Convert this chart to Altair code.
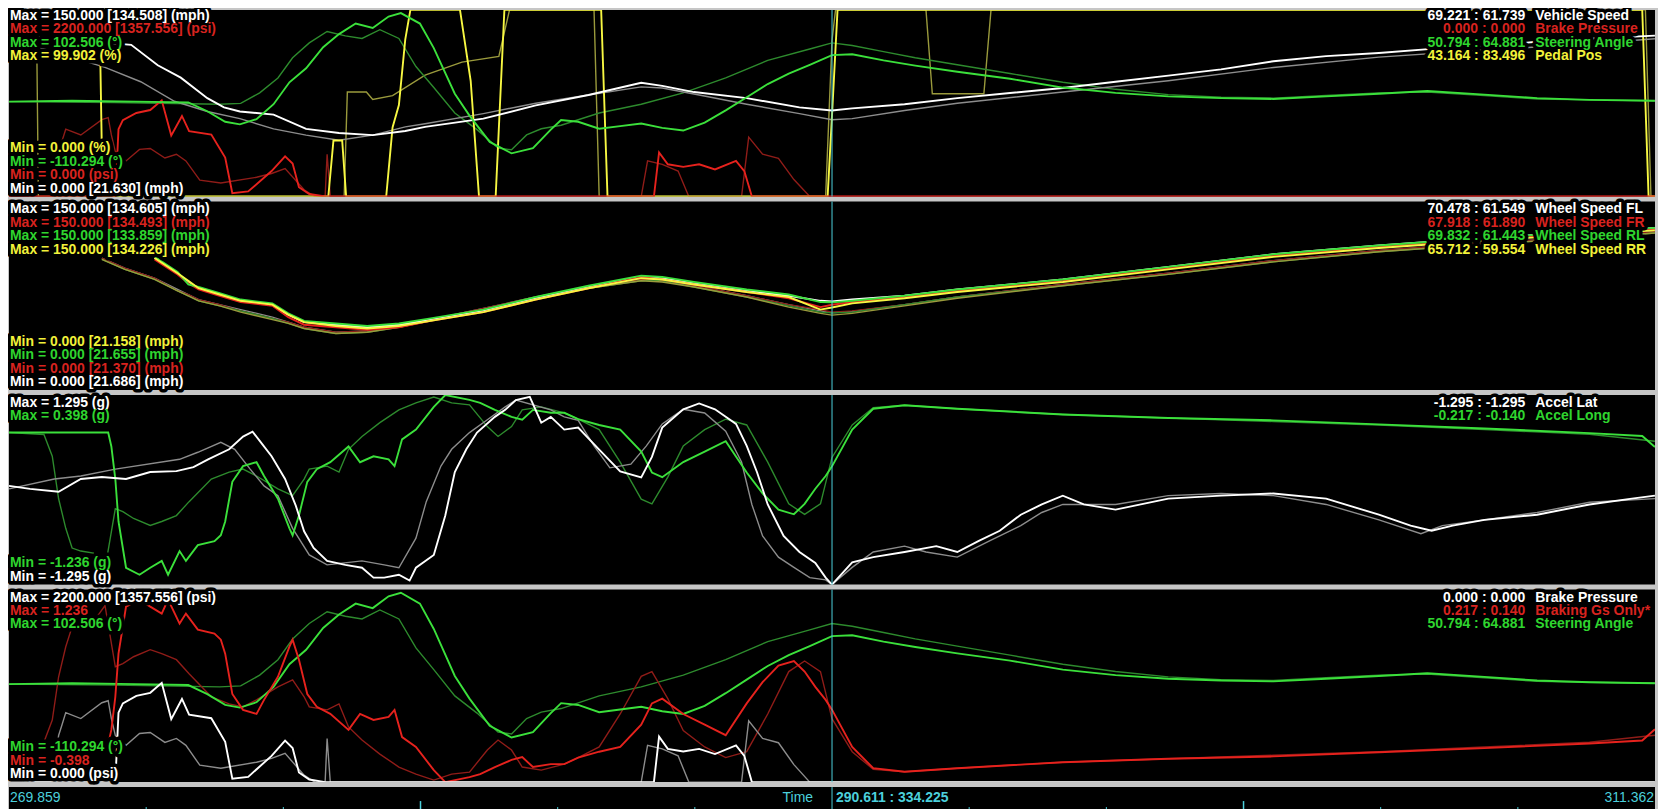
import altair as alt
import pandas as pd

# ---------------- time axis ----------------
T_START, T_END = 269.859, 311.362
CURSOR_T = 290.611
TICK_T = [273.318, 276.776, 283.694, 287.152, 294.069, 297.528, 304.445, 307.904]
TALL_TICK_T = [280.235, 300.987]

# ---------------- channel data (time s, value) ----------------
VS_CUR = [(269.86, 130.2), (271.45, 126.1), (272.94, 122.0), (273.61, 105.5), (274.19, 95.6), (274.86, 79.1),
          (275.28, 71.7), (275.68, 68.4), (276.53, 65.9), (277.35, 54.4), (278.18, 51.1), (279.03, 49.4),
          (279.85, 52.7), (280.35, 56.0), (281.82, 62.6), (283.14, 73.3), (284.47, 81.6), (285.80, 91.5),
          (286.33, 89.0), (287.13, 84.0), (288.46, 79.1), (289.79, 71.7), (290.61, 69.2), (291.12, 70.9),
          (292.44, 74.2), (293.77, 79.1), (295.10, 83.2), (296.43, 87.3), (297.76, 92.3), (299.09, 97.2),
          (300.42, 102.2), (301.74, 108.8), (303.07, 112.9), (304.40, 115.4), (305.73, 118.7), (307.06, 121.1),
          (308.39, 124.4), (309.71, 126.9), (311.36, 129.4)]
VS_REF = [(269.86, 126.9), (271.19, 114.5), (272.28, 103.8), (273.18, 92.3), (274.03, 76.6), (274.86, 68.4),
          (275.68, 62.6), (276.53, 54.4), (277.35, 49.4), (278.18, 45.3), (279.03, 49.4), (279.85, 56.0),
          (280.35, 58.5), (281.82, 66.7), (283.14, 75.0), (284.47, 81.6), (285.80, 88.2), (286.33, 87.3),
          (287.13, 82.4), (288.46, 74.2), (289.79, 66.7), (290.61, 61.7), (291.12, 62.6), (292.44, 69.2),
          (293.77, 75.0), (296.43, 84.0), (299.09, 93.1), (301.74, 103.8), (304.40, 112.1), (307.06, 117.8),
          (309.71, 122.8), (311.36, 126.9)]

BRAKE_CUR = [(269.86, 0), (272.54, 0), (272.62, 794), (272.73, 900), (273.07, 985), (273.42, 1020),
             (273.71, 1134), (273.95, 720), (274.22, 950), (274.40, 770), (274.96, 730), (275.31, 460),
             (275.49, 40), (275.89, 60), (276.48, 300), (276.82, 475), (277.01, 390), (277.17, 110),
             (277.43, 30), (277.83, 0), (286.12, 0), (286.25, 520), (286.47, 380), (286.86, 350),
             (287.26, 380), (287.66, 320), (288.19, 420), (288.40, 300), (288.59, 0), (311.36, 0)]
BRAKE_REF = [(269.86, 0), (270.95, 0), (271.11, 533), (271.19, 646), (271.29, 794), (271.67, 726),
             (272.20, 907), (272.36, 930), (272.44, 726), (272.54, 533), (272.81, 420), (273.15, 556),
             (273.42, 567), (273.79, 454), (274.08, 499), (274.32, 420), (274.67, 193), (275.20, 159),
             (276.10, 227), (276.48, 272), (276.82, 329), (277.30, 79), (277.57, 0), (277.83, 0),
             (277.88, 499), (277.96, 0), (285.80, 0), (285.96, 420), (286.33, 380), (286.73, 300),
             (287.00, 0), (288.33, 0), (288.51, 700), (288.86, 500), (289.26, 450), (289.65, 200),
             (290.05, 0), (311.36, 0)]

STEER_CUR = [(269.86, -2), (271.45, -1), (273.05, -2), (274.38, -3), (274.86, -13), (275.31, -25),
             (275.68, -28), (276.10, -22), (276.53, -5), (276.93, 20), (277.35, 36), (277.78, 60),
             (278.18, 75), (278.60, 87), (279.03, 82), (279.43, 95), (279.74, 99), (280.22, 87),
             (280.57, 59), (281.10, 7), (281.47, -18), (281.98, -48), (282.53, -61), (283.07, -55),
             (283.52, -34), (283.78, -23), (284.21, -25), (284.74, -33), (285.27, -30), (285.80, -27),
             (286.33, -32), (286.86, -35), (287.40, -26), (287.93, -12), (288.46, 3), (288.99, 18),
             (289.52, 30), (290.05, 40), (290.61, 51), (291.12, 52), (291.91, 45), (292.71, 39),
             (293.77, 32), (295.10, 24), (296.43, 14), (297.76, 8), (299.09, 4), (300.42, 2),
             (301.74, 1), (303.07, 4), (304.40, 7), (305.62, 10), (307.06, 6), (308.39, 2),
             (309.71, 0), (311.36, -1)]
STEER_REF = [(269.86, -2), (272.52, -3), (275.17, -5), (275.70, -4), (276.18, 8), (276.64, 25),
             (277.01, 48), (277.43, 65), (277.88, 78), (278.34, 73), (278.76, 70), (279.21, 80),
             (279.69, 70), (280.12, 38), (280.57, 14), (281.10, -15), (281.66, -34), (282.19, -55),
             (282.53, -57), (282.91, -40), (283.28, -33), (283.78, -29), (284.74, -15), (285.80, -5),
             (286.86, 8), (287.93, 25), (288.99, 45), (290.05, 58), (290.61, 65), (291.12, 62),
             (291.91, 55), (292.71, 48), (293.77, 40), (295.10, 30), (296.43, 20), (297.76, 12),
             (299.09, 6), (300.42, 3), (301.74, 2), (303.07, 5), (304.40, 8), (305.62, 9),
             (307.06, 5), (308.39, 1), (309.71, 0), (311.36, -1)]

PEDAL_CUR = [(269.86, 100), (272.14, 100), (272.22, 0), (277.91, 0), (278.04, 30), (278.26, 30),
             (278.36, 0), (279.37, 0), (279.53, 37), (279.69, 49), (279.85, 84), (279.98, 100),
             (281.23, 100), (281.50, 62), (281.71, 0), (282.13, 0), (282.35, 100), (284.79, 100),
             (284.95, 0), (290.50, 0), (290.61, 43.2), (290.75, 100), (311.04, 100), (311.20, 0),
             (311.36, 0)]
PEDAL_REF = [(269.86, 100), (270.55, 100), (270.60, 0), (278.31, 0), (278.39, 56), (278.87, 56),
             (279.03, 52), (279.53, 54), (280.35, 65), (281.28, 72), (282.21, 75), (282.48, 100),
             (284.61, 100), (284.74, 0), (290.45, 0), (290.61, 83.5), (290.70, 100), (292.98, 100),
             (293.14, 55), (294.44, 55), (294.62, 100), (311.12, 100), (311.26, 0), (311.36, 0)]

WS_T = [272.20, 272.78, 273.53, 274.11, 274.38, 274.64, 275.17, 275.70, 276.50, 276.90, 277.30, 278.10,
        278.89, 279.69, 280.49, 281.82, 283.14, 284.47, 285.80, 286.33, 287.13, 288.46, 289.52, 290.32,
        290.61, 291.12, 292.44, 293.77, 296.43, 299.09, 301.74, 304.40, 307.06, 309.71, 311.36]
WS_FL = [None, None, 105, 93, 86, 81, 76, 71, 68, 60, 54, 52, 50, 52, 56, 63, 73, 82, 90, 89, 85, 79, 75, 71,
         70.5, 72, 75, 80, 88, 98, 108, 115, 121, 126, 129]
WS_FR = [None, None, 104, 92, 85, 80, 75, 70, 67, 58, 52, 50, 48, 50, 55, 62, 72, 81, 90, 88, 84, 78, 73, 66,
         67.9, 70, 74, 79, 87, 97, 107, 114, 120, 125, 128]
WS_RL = [None, None, 106, 94, 84, 82, 77, 72, 69, 61, 55, 53, 51, 53, 57, 64, 74, 83, 91, 90, 86, 80, 76, 70,
         69.8, 71, 75, 80, 88, 98, 108, 115, 121, 126, 129]
WS_RR = [None, None, 105, 93, 87, 81, 76, 71, 68, 60, 54, 51, 49, 51, 55, 62, 72, 81, 89, 88, 84, 78, 74, 64,
         65.7, 69, 73, 78, 86, 96, 106, 113, 119, 124, 127]
WS_FL_REF = [105, 97, 89, 80, 76, 72, 68, 64, 58, 54, 50, 46, 47, 51, 56, 65, 74, 82, 88, 88, 83, 75, 68, 63,
             61.5, 62.5, 68, 74, 84, 93, 103, 111, 117, 122, 126]
WS_FR_REF = [105, 97, 89, 79, 76, 72, 68, 63, 57, 54, 50, 46, 47, 51, 56, 65, 74, 82, 88, 87, 83, 75, 68, 64,
             61.9, 63, 68, 74, 84, 93, 103, 111, 117, 122, 126]
WS_RL_REF = [104, 96, 88, 79, 75, 71, 67, 63, 57, 53, 49, 45, 46, 50, 55, 64, 73, 81, 87, 87, 82, 74, 67, 62,
             61.4, 62, 68, 74, 83, 92, 102, 110, 116, 121, 125]
WS_RR_REF = [104, 96, 88, 79, 75, 71, 67, 62, 56, 53, 49, 45, 46, 50, 55, 64, 73, 81, 87, 86, 82, 74, 66, 61,
             59.6, 61, 67, 73, 83, 92, 102, 110, 116, 121, 125]

LAT_CUR = [(269.86, 0.054), (270.39, 0.013), (271.11, -0.026), (271.67, 0.148), (272.20, 0.176), (272.81, 0.148),
           (273.42, 0.243), (274.08, 0.256), (274.51, 0.31), (274.88, 0.417), (275.41, 0.554), (275.76, 0.728),
           (276.00, 0.795), (276.21, 0.648), (276.48, 0.459), (276.82, 0.148), (277.09, -0.216), (277.30, -0.567),
           (277.54, -0.795), (277.88, -0.971), (278.34, -1.025), (278.76, -1.065), (279.05, -1.2), (279.32, -1.2),
           (279.69, -1.16), (279.96, -1.24), (280.12, -1.065), (280.57, -0.891), (280.86, -0.35), (281.10, 0.243),
           (281.39, 0.554), (281.66, 0.782), (282.11, 0.997), (282.37, 1.093), (282.64, 1.227), (282.99, 1.27),
           (283.28, 0.917), (283.52, 0.997), (283.86, 0.823), (284.21, 0.85), (284.74, 0.55), (285.27, 0.25),
           (285.80, 0.17), (286.07, 0.45), (286.33, 0.85), (286.86, 1.1), (287.26, 1.18), (287.66, 1.1),
           (288.19, 0.9), (288.46, 0.6), (288.72, 0.24), (288.99, -0.2), (289.39, -0.63), (289.79, -0.85),
           (290.19, -1.0), (290.45, -1.2), (290.61, -1.295), (291.12, -0.99), (291.65, -0.92), (292.44, -0.85),
           (293.24, -0.77), (293.77, -0.85), (294.30, -0.70), (294.84, -0.56), (295.37, -0.34), (295.90, -0.2),
           (296.43, -0.08), (296.96, -0.2), (297.76, -0.27), (299.09, -0.12), (300.42, -0.08), (301.74, -0.05),
           (303.07, -0.12), (304.40, -0.34), (305.20, -0.49), (305.73, -0.56), (306.26, -0.49), (307.06, -0.41),
           (308.39, -0.34), (309.71, -0.2), (310.78, -0.12), (311.36, -0.08)]
LAT_REF = [(269.86, 0.013), (271.00, 0.148), (271.67, 0.189), (272.54, 0.283), (274.16, 0.417), (274.62, 0.513),
           (275.20, 0.648), (275.55, 0.554), (275.94, 0.283), (276.29, 0.054), (276.64, -0.081), (277.01, -0.526),
           (277.43, -0.89), (277.88, -1.025), (278.76, -0.971), (279.32, -1.025), (279.69, -1.065), (280.12, -0.66),
           (280.38, -0.162), (280.75, 0.324), (281.02, 0.554), (281.47, 0.782), (281.92, 0.958), (282.37, 1.133),
           (282.64, 1.227), (283.52, 1.093), (283.86, 0.997), (284.21, 0.95), (284.61, 0.6), (285.01, 0.3),
           (285.54, 0.35), (285.93, 0.6), (286.33, 0.9), (286.86, 1.1), (287.40, 1.05), (287.93, 0.8),
           (288.33, 0.38), (288.59, -0.2), (288.86, -0.63), (289.26, -0.92), (289.65, -1.06), (290.05, -1.2),
           (290.45, -1.23), (290.61, -1.295), (291.12, -1.06), (291.65, -0.85), (292.44, -0.77), (292.98, -0.85),
           (293.77, -0.92), (294.57, -0.70), (295.37, -0.49), (295.90, -0.31), (296.43, -0.2), (297.76, -0.2),
           (299.09, -0.08), (300.42, -0.05), (301.74, -0.08), (303.07, -0.2), (304.40, -0.41), (305.46, -0.6),
           (306.00, -0.49), (307.06, -0.41), (308.39, -0.31), (309.71, -0.17), (311.36, -0.12)]

LONG_CUR = [(269.86, 0.075), (272.36, 0.075), (272.44, -0.045), (272.54, -0.326), (272.62, -0.692), (272.81, -1.091),
            (273.15, -1.151), (273.42, -1.091), (273.71, -1.032), (273.87, -1.151), (274.16, -0.947), (274.32, -1.032),
            (274.62, -0.896), (275.04, -0.862), (275.20, -0.811), (275.31, -0.692), (275.49, -0.35), (275.76, -0.215),
            (276.10, -0.181), (276.29, -0.3), (276.64, -0.496), (276.93, -0.751), (277.01, -0.811), (277.17, -0.64),
            (277.38, -0.35), (277.62, -0.241), (277.96, -0.181), (278.42, -0.045), (278.71, -0.181), (279.05, -0.13),
            (279.43, -0.156), (279.58, -0.215), (279.77, 0.016), (280.12, 0.1), (280.57, 0.296), (280.86, 0.398),
            (281.47, 0.356), (281.74, 0.33), (282.11, 0.27), (282.53, 0.21), (282.80, 0.186), (283.07, 0.27),
            (283.52, 0.245), (283.86, 0.245), (284.21, 0.19), (284.74, 0.14), (285.27, 0.10), (285.80, -0.09),
            (286.07, -0.27), (286.33, -0.31), (286.86, -0.18), (287.40, -0.09), (287.93, 0.0), (288.46, -0.27),
            (288.86, -0.45), (289.26, -0.59), (289.65, -0.63), (289.92, -0.54), (290.19, -0.41), (290.45, -0.30),
            (290.61, -0.217), (291.12, 0.10), (291.65, 0.28), (292.44, 0.31), (293.77, 0.28), (296.43, 0.23),
            (299.09, 0.20), (301.74, 0.18), (304.40, 0.145), (307.06, 0.11), (309.71, 0.07), (311.04, 0.045),
            (311.36, -0.05)]
LONG_REF = [(269.86, 0.075), (270.74, 0.058), (270.95, -0.129), (271.11, -0.496), (271.29, -0.751), (271.45, -0.921),
            (271.67, -0.947), (271.99, -0.964), (272.28, -1.1), (272.54, -0.581), (272.73, -0.607), (273.00, -0.666),
            (273.42, -0.726), (273.71, -0.692), (274.08, -0.641), (274.40, -0.521), (274.96, -0.326), (275.41, -0.266),
            (275.76, -0.24), (276.10, -0.3), (276.64, -0.411), (277.01, -0.47), (277.30, -0.326), (277.43, -0.24),
            (277.88, -0.215), (278.18, -0.266), (278.42, -0.07), (278.76, 0.041), (279.21, 0.16), (279.69, 0.27),
            (280.12, 0.33), (280.57, 0.381), (281.02, 0.33), (281.47, 0.313), (281.92, 0.126), (282.19, 0.041),
            (282.53, 0.126), (282.80, 0.27), (283.28, 0.296), (283.86, 0.245), (284.21, 0.19), (284.74, 0.10),
            (285.27, -0.18), (285.80, -0.50), (286.07, -0.54), (286.47, -0.31), (286.86, -0.04), (287.40, 0.10),
            (287.93, 0.19), (288.46, 0.14), (288.99, -0.18), (289.52, -0.54), (289.92, -0.63), (290.32, -0.54),
            (290.61, -0.14), (291.12, 0.14), (291.65, 0.29), (292.44, 0.31), (293.77, 0.28), (296.43, 0.23),
            (299.09, 0.20), (301.74, 0.17), (304.40, 0.14), (307.06, 0.10), (309.71, 0.06), (311.36, 0.0)]

# ---------------- labels ----------------
C_WHITE, C_RED, C_GREEN, C_YELLOW = "#ffffff", "#d8231f", "#2fd52f", "#f2f23a"

P1_TOP = [("Max = 150.000 [134.508] (mph)", C_WHITE), ("Max = 2200.000 [1357.556] (psi)", C_RED),
          ("Max = 102.506 (°)", C_GREEN), ("Max = 99.902 (%)", C_YELLOW)]
P1_BOT = [("Min = 0.000 (%)", C_YELLOW), ("Min = -110.294 (°)", C_GREEN),
          ("Min = 0.000 (psi)", C_RED), ("Min = 0.000 [21.630] (mph)", C_WHITE)]
P1_RIGHT = [("69.221 : 61.739", "Vehicle Speed", C_WHITE), ("0.000 : 0.000", "Brake Pressure", C_RED),
            ("50.794 : 64.881", "Steering Angle", C_GREEN), ("43.164 : 83.496", "Pedal Pos", C_YELLOW)]

P2_TOP = [("Max = 150.000 [134.605] (mph)", C_WHITE), ("Max = 150.000 [134.493] (mph)", C_RED),
          ("Max = 150.000 [133.859] (mph)", C_GREEN), ("Max = 150.000 [134.226] (mph)", C_YELLOW)]
P2_BOT = [("Min = 0.000 [21.158] (mph)", C_YELLOW), ("Min = 0.000 [21.655] (mph)", C_GREEN),
          ("Min = 0.000 [21.370] (mph)", C_RED), ("Min = 0.000 [21.686] (mph)", C_WHITE)]
P2_RIGHT = [("70.478 : 61.549", "Wheel Speed FL", C_WHITE), ("67.918 : 61.890", "Wheel Speed FR", C_RED),
            ("69.832 : 61.443", "Wheel Speed RL", C_GREEN), ("65.712 : 59.554", "Wheel Speed RR", C_YELLOW)]

P3_TOP = [("Max = 1.295 (g)", C_WHITE), ("Max = 0.398 (g)", C_GREEN)]
P3_BOT = [("Min = -1.236 (g)", C_GREEN), ("Min = -1.295 (g)", C_WHITE)]
P3_RIGHT = [("-1.295 : -1.295", "Accel Lat", C_WHITE), ("-0.217 : -0.140", "Accel Long", C_GREEN)]

P4_TOP = [("Max = 2200.000 [1357.556] (psi)", C_WHITE), ("Max = 1.236", C_RED), ("Max = 102.506 (°)", C_GREEN)]
P4_BOT = [("Min = -110.294 (°)", C_GREEN), ("Min = -0.398", C_RED), ("Min = 0.000 (psi)", C_WHITE)]
P4_RIGHT = [("0.000 : 0.000", "Brake Pressure", C_WHITE), ("0.217 : 0.140", "Braking Gs Only*", C_RED),
            ("50.794 : 64.881", "Steering Angle", C_GREEN)]

AXIS_LEFT, AXIS_MID, AXIS_CURSOR, AXIS_RIGHT = "269.859", "Time", "290.611 : 334.225", "311.362"

# ---------------- styling ----------------
WHITE, GREY = "#ffffff", "#8c8c8c"
RED, DRED = "#e6221d", "#8f1c18"
GREEN, DGREEN = "#3be03b", "#2d8a2d"
YELLOW, OLIVE = "#f7f742", "#9a9a3c"
CYAN = "#4cd0dc"
FONT = "Liberation Sans"
AXFONT = "Liberation Sans Narrow, Liberation Sans"

W = 1650
H1, H2, H3, H4, HA = 187, 189, 190, 193, 27
ROW = 13.5
SW_CUR, SW_REF = 1.9, 1.4

xscale = alt.Scale(domain=[T_START, T_END], nice=False, zero=False)


def trace(points, lo, hi, color, sw=SW_CUR, negate=False):
    df = pd.DataFrame(points, columns=["t", "v"])
    ch = alt.Chart(df)
    field = "v"
    if negate:
        ch = ch.transform_calculate(neg="-datum.v")
        field = "neg"
    return ch.mark_line(color=color, strokeWidth=sw, clip=True).encode(
        x=alt.X("t:Q", scale=xscale, axis=None),
        y=alt.Y(f"{field}:Q", scale=alt.Scale(domain=[lo, hi], nice=False, zero=False), axis=None),
    )


def wheel(values, color, sw=SW_CUR):
    pts = [(t, v) for t, v in zip(WS_T, values) if v is not None]
    return trace(pts, 0, 150, color, sw)


def cursor():
    return alt.Chart(pd.DataFrame({"t": [CURSOR_T]})).mark_rule(color=CYAN, strokeWidth=1).encode(
        x=alt.X("t:Q", scale=xscale, axis=None))


def txt(s, x, y, color, align="left", halo=False, size=14, weight="bold", font=FONT):
    df = pd.DataFrame({"s": [s]})
    if halo:
        m = alt.Chart(df).mark_text(align=align, baseline="middle", font=font, fontSize=size, fontWeight=weight,
                                    fill="black", stroke="black", strokeWidth=7, strokeJoin="round")
    else:
        m = alt.Chart(df).mark_text(align=align, baseline="middle", font=font, fontSize=size, fontWeight=weight,
                                    color=color)
    return m.encode(x=alt.value(x), y=alt.value(y), text="s:N")


def label_layers(top, bot, right, h, y0=8):
    items = []
    for i, (s, c) in enumerate(top):
        items.append((s, 1, y0 + i * ROW, c, "left"))
    n = len(bot)
    for i, (s, c) in enumerate(bot):
        items.append((s, 1, h - 8 - (n - 1 - i) * ROW, c, "left"))
    for i, (vals, name, c) in enumerate(right):
        y = y0 + i * ROW
        items.append((vals, W - 130, y, c, "right"))
        items.append((name, W - 120, y, c, "left"))
    halos = [txt(s, x, y, c, a, halo=True) for s, x, y, c, a in items]
    fronts = [txt(s, x, y, c, a) for s, x, y, c, a in items]
    return halos + fronts


def panel(lines, top, bot, right, h, y0=8):
    layers = lines + [cursor()] + label_layers(top, bot, right, h, y0)
    return alt.layer(*layers).resolve_scale(y="independent").properties(width=W, height=h)


p1 = panel([
    trace(PEDAL_REF, 0, 99.902, OLIVE, SW_REF),
    trace(STEER_REF, -110.294, 102.506, DGREEN, SW_REF),
    trace(BRAKE_REF, 0, 2200, DRED, SW_REF),
    trace(VS_REF, 0, 150, GREY, SW_REF),
    trace(PEDAL_CUR, 0, 99.902, YELLOW),
    trace(BRAKE_CUR, 0, 2200, RED),
    trace(VS_CUR, 0, 150, WHITE),
    trace(STEER_CUR, -110.294, 102.506, GREEN),
], P1_TOP, P1_BOT, P1_RIGHT, H1, y0=6)

p2 = panel([
    wheel(WS_FL_REF, GREY, SW_REF), wheel(WS_FR_REF, DRED, SW_REF),
    wheel(WS_RL_REF, DGREEN, SW_REF), wheel(WS_RR_REF, OLIVE, SW_REF),
    wheel(WS_FL, WHITE), wheel(WS_FR, RED), wheel(WS_RL, GREEN), wheel(WS_RR, YELLOW),
], P2_TOP, P2_BOT, P2_RIGHT, H2)

p3 = panel([
    trace(LONG_REF, -1.236, 0.398, DGREEN, SW_REF),
    trace(LAT_REF, -1.295, 1.295, GREY, SW_REF),
    trace(LONG_CUR, -1.236, 0.398, GREEN),
    trace(LAT_CUR, -1.295, 1.295, WHITE),
], P3_TOP, P3_BOT, P3_RIGHT, H3)

p4 = panel([
    trace(STEER_REF, -110.294, 102.506, DGREEN, SW_REF),
    trace(LONG_REF, -0.398, 1.236, DRED, SW_REF, negate=True),
    trace(BRAKE_REF, 0, 2200, GREY, SW_REF),
    trace(STEER_CUR, -110.294, 102.506, GREEN),
    trace(LONG_CUR, -0.398, 1.236, RED, negate=True),
    trace(BRAKE_CUR, 0, 2200, WHITE),
], P4_TOP, P4_BOT, P4_RIGHT, H4)

ticks_small = alt.Chart(pd.DataFrame({"t": TICK_T})).mark_rule(color=CYAN, strokeWidth=1).encode(
    x=alt.X("t:Q", scale=xscale, axis=None), y=alt.value(HA - 7), y2=alt.value(HA - 1))
ticks_tall = alt.Chart(pd.DataFrame({"t": TALL_TICK_T})).mark_rule(color=CYAN, strokeWidth=1.5).encode(
    x=alt.X("t:Q", scale=xscale, axis=None), y=alt.value(HA - 13), y2=alt.value(HA - 1))
baseline = alt.Chart(pd.DataFrame({"t": [T_START]})).mark_rule(color=CYAN, strokeWidth=2).encode(
    x=alt.value(0), x2=alt.value(W), y=alt.value(HA - 1))
axis_strip = alt.layer(
    ticks_small, ticks_tall, baseline, cursor(),
    txt(AXIS_LEFT, 1, 11, CYAN, "left", weight="normal", size=14, font=AXFONT),
    txt(AXIS_MID, 806, 11, CYAN, "right", weight="normal", size=14, font=AXFONT),
    txt(AXIS_CURSOR, 829, 11, CYAN, "left", weight="bold", size=14, font=AXFONT),
    txt(AXIS_RIGHT, W - 1, 11, CYAN, "right", weight="normal", size=14, font=AXFONT),
).properties(width=W, height=HA)

chart = alt.vconcat(p1, p2, p3, p4, axis_strip, spacing=3).properties(
    background="#c6c6c6",
    padding={"left": 0, "right": 2, "top": 0, "bottom": 2},
).configure_view(fill="black", stroke=None)

chart.save("out.html", embed_options={"renderer": "svg", "actions": False})
